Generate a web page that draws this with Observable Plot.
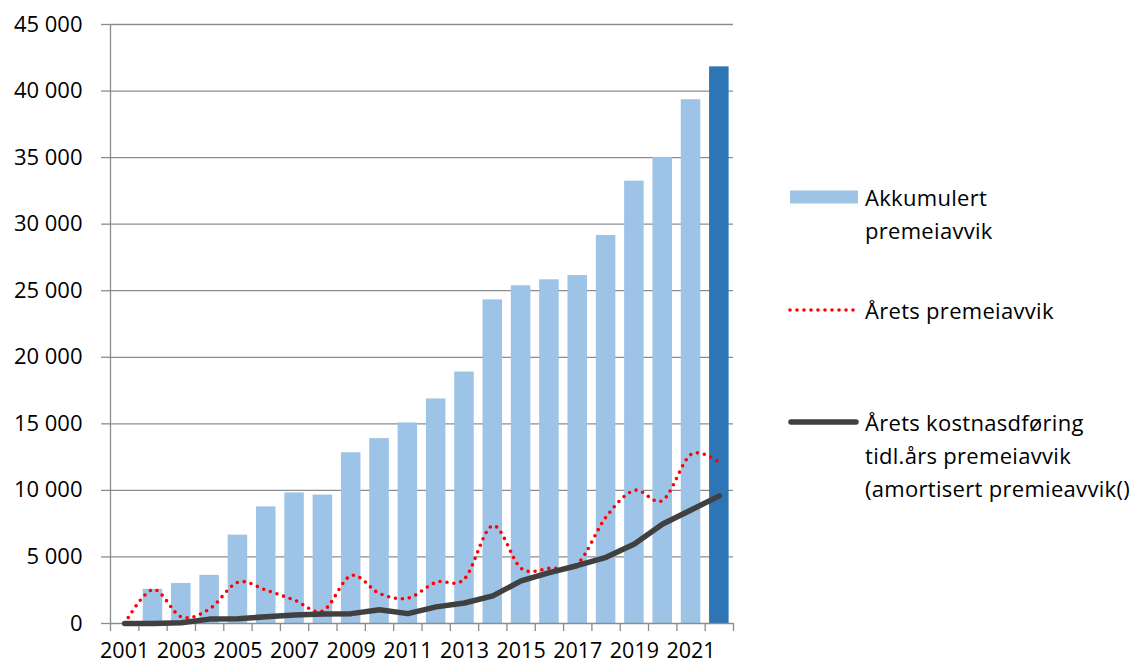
<!DOCTYPE html>
<html>
<head>
<meta charset="utf-8">
<script src="https://cdn.jsdelivr.net/npm/d3@7"></script>
<script src="https://cdn.jsdelivr.net/npm/@observablehq/plot@0.6"></script>
<style>
  body { margin: 0; background: #fff; font-family: "Open Sans", sans-serif; }
  #wrap { position: relative; width: 1141px; height: 666px; overflow: hidden; background: #fff; }
  #chart { position: absolute; left: 0; top: 0; }
  .lt { position: absolute; left: 865px; font-size: 22px; line-height: 33px; letter-spacing: 0.3px; color: #000; white-space: nowrap; }
  .sw { position: absolute; }
</style>
</head>
<body>
<div id="wrap">
  <div id="chart"></div>
  <div id="legend"></div>
</div>
<script>
// ---- data ----
const years = ["2001","2002","2003","2004","2005","2006","2007","2008","2009","2010","2011",
               "2012","2013","2014","2015","2016","2017","2018","2019","2020","2021","2022"];
const akkumulertPremieavvik = [0, 2570, 3010, 3620, 6640, 8760, 9810, 9650, 12830, 13890, 15070,
                               16870, 18890, 24310, 25370, 25820, 26140, 29150, 33230, 35020, 39350, 41820];
const aretsPremieavvik = [0, 2550, 500, 1100, 3100, 2500, 1750, 950, 3600, 2250, 1900,
                          3100, 3350, 7350, 4150, 4150, 4500, 8000, 10000, 9250, 12700, 12100];
const aretsKostnadsforing = [0, 0, 50, 330, 350, 510, 640, 720, 740, 1030, 740,
                             1250, 1540, 2080, 3200, 3820, 4360, 4970, 5970, 7470, 8530, 9590];
const yTicks = [0, 5000, 10000, 15000, 20000, 25000, 30000, 35000, 40000, 45000];
const xLabelYears = years.filter((d, i) => i % 2 === 0);
const legendLabels = {
  bars: ["Akkumulert", "premeiavvik"],
  red: ["Årets premeiavvik"],
  black: ["Årets kostnasdføring", "tidl.års premeiavvik", "(amortisert premieavvik()"]
};

// ---- styles ----
const lightBlue = "#9dc3e6";
const darkBlue = "#2e75b6";
const red = "#ff0000";
const dark = "#404040";
const grid = "#8c8c8c";

const data = years.map((year, i) => ({
  year,
  akk: akkumulertPremieavvik[i],
  arets: aretsPremieavvik[i],
  kost: aretsKostnadsforing[i]
}));

const width = 745, marginLeft = 110, marginRight = 12;
const bw = (width - marginLeft - marginRight) / years.length;
const fmt = d => d3.format(",")(d).replace(/,/g, " ");

const plot = Plot.plot({
  width, height: 666,
  marginLeft, marginRight, marginTop: 24, marginBottom: 43,
  style: { fontFamily: "'Open Sans', sans-serif", fontSize: "22px", color: "#000", background: "#fff", overflow: "visible" },
  x: { type: "band", domain: years, padding: 0, align: 0.5, round: false },
  y: { domain: [0, 45000] },
  marks: [
    Plot.gridY({ ticks: yTicks.slice(1), stroke: grid, strokeOpacity: 1, strokeWidth: 1.3 }),
    Plot.axisY({ ticks: yTicks, tickSize: 9, tickPadding: 19, stroke: grid, strokeWidth: 1.3, tickFormat: fmt, fontSize: 22, label: null }),
    Plot.barY(data, { x: "year", y: "akk", fill: d => d.year === years[years.length - 1] ? darkBlue : lightBlue, insetLeft: 4.4, insetRight: 4.4 }),
    Plot.ruleY([0], { stroke: grid, strokeWidth: 1.3 }),
    Plot.ruleX([years[0]], { dx: -bw / 2, stroke: grid, strokeWidth: 1.3 }),
    Plot.axisX({ ticks: years, tickSize: 8, tickFormat: () => "", dx: -bw / 2, stroke: grid, strokeWidth: 1.3, label: null }),
    Plot.axisX({ ticks: [years[years.length - 1]], tickSize: 8, tickFormat: () => "", dx: bw / 2, stroke: grid, strokeWidth: 1.3, label: null }),
    Plot.axisX({ ticks: xLabelYears, tickSize: 0, tickPadding: 19, fontSize: 21.5, label: null }),
    Plot.lineY(data, { x: "year", y: "arets", curve: "cardinal", stroke: red, strokeWidth: 3.6, strokeDasharray: "0,7", strokeLinecap: "round" }),
    Plot.lineY(data, { x: "year", y: "kost", stroke: dark, strokeWidth: 5.5, strokeLinejoin: "round", strokeLinecap: "round" })
  ]
});
document.getElementById("chart").appendChild(plot);

// ---- legend ----
const leg = document.getElementById("legend");
function addText(lines, centerY) {
  const d = document.createElement("div");
  d.className = "lt";
  d.style.top = (centerY - 16.5) + "px";
  d.innerHTML = lines.map(l => `<div>${l}</div>`).join("");
  leg.appendChild(d);
}
const NS = "http://www.w3.org/2000/svg";
function addSwatch(kind, cy) {
  const s = document.createElementNS(NS, "svg");
  s.setAttribute("class", "sw");
  s.setAttribute("width", 80); s.setAttribute("height", 24);
  s.style.left = "784px"; s.style.top = (cy - 12) + "px";
  if (kind === "bar") {
    const r = document.createElementNS(NS, "rect");
    r.setAttribute("x", 6); r.setAttribute("y", 5.5); r.setAttribute("width", 68); r.setAttribute("height", 13);
    r.setAttribute("fill", lightBlue);
    s.appendChild(r);
  } else {
    const l = document.createElementNS(NS, "line");
    l.setAttribute("x1", kind === "red" ? 6 : 7); l.setAttribute("x2", kind === "red" ? 71 : 72);
    l.setAttribute("y1", 12); l.setAttribute("y2", 12);
    l.setAttribute("stroke", kind === "red" ? red : dark);
    l.setAttribute("stroke-width", kind === "red" ? 3.6 : 5.5);
    l.setAttribute("stroke-linecap", "round");
    if (kind === "red") l.setAttribute("stroke-dasharray", "0,7");
    s.appendChild(l);
  }
  leg.appendChild(s);
}
addSwatch("bar", 197); addText(legendLabels.bars, 197);
addSwatch("red", 310); addText(legendLabels.red, 310);
addSwatch("black", 422); addText(legendLabels.black, 422);
</script>
</body>
</html>
